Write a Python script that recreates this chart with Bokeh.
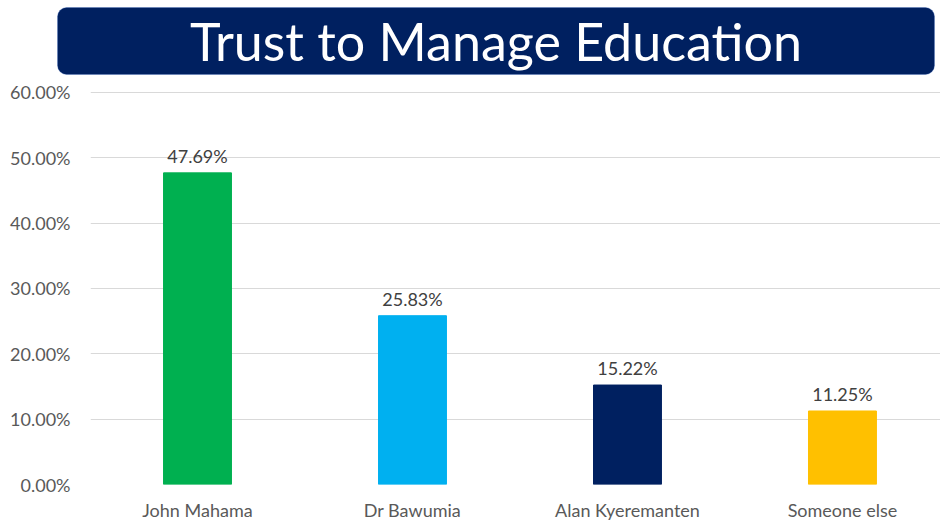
from bokeh.plotting import figure
from bokeh.layouts import column
from bokeh.models import (ColumnDataSource, FixedTicker, NumeralTickFormatter,
                          BoxAnnotation, Label, LabelSet, Range1d)
from bokeh.core.properties import value
from bokeh.embed import file_html
from bokeh.resources import INLINE

title_text = "Trust to Manage Education"
categories = ["John Mahama", "Dr Bawumia", "Alan Kyeremanten", "Someone else"]
values = [0.4769, 0.2583, 0.1522, 0.1125]
colors = ["#00B050", "#00B0F0", "#002060", "#FFC000"]
y_ticks = [0.0, 0.1, 0.2, 0.3, 0.4, 0.5, 0.6]

FONT = "Lato"
W = 940

# ---------- title banner ----------
t = figure(width=W, height=78, output_backend="svg", toolbar_location=None,
           x_range=Range1d(0, W), y_range=Range1d(78, 0),
           min_border=0, x_axis_location=None, y_axis_location=None)
t.frame_align = False
t.outline_line_color = None
t.xgrid.visible = False
t.ygrid.visible = False
t.add_layout(BoxAnnotation(left=57, right=934, top=7, bottom=74,
                           fill_color="#002060", fill_alpha=1.0,
                           line_color="#4472C4", line_width=1,
                           border_radius=9))
t.add_layout(Label(x=495.5, y=40, text=title_text, text_align="center",
                   text_baseline="middle", text_color="white",
                   text_font=FONT, text_font_size="52px"))

# ---------- bar chart ----------
xs = list(range(len(categories)))
src = ColumnDataSource(dict(
    x=xs, top=values, color=colors,
    label=[f"{v*100:.2f}%" for v in values],
))

p = figure(width=W, height=445, output_backend="svg", toolbar_location=None,
           x_range=(-0.4977, 3.456), y_range=(0, 0.62132),
           min_border_left=90, min_border_right=0, min_border_top=0,
           min_border_bottom=37)
p.frame_align = False
p.outline_line_color = None

p.vbar(x="x", top="top", width=0.316, color="color", source=src)

p.add_layout(LabelSet(x="x", y="top", text="label", source=src,
                      text_align="center", text_baseline="bottom", y_offset=6,
                      text_font=value(FONT), text_font_size="18px",
                      text_color="#404040"))

p.yaxis.ticker = FixedTicker(ticks=y_ticks)
p.yaxis.formatter = NumeralTickFormatter(format="0.00%")
p.yaxis.axis_line_color = None
p.yaxis.major_tick_line_color = None
p.yaxis.minor_tick_line_color = None
p.yaxis.major_tick_out = 0
p.yaxis.major_tick_in = 0
p.yaxis.major_label_text_font = FONT
p.yaxis.major_label_text_font_size = "18px"
p.yaxis.major_label_text_color = "#595959"
p.yaxis.major_label_standoff = 20

p.xaxis.ticker = FixedTicker(ticks=xs)
p.xaxis.major_label_overrides = {i: c for i, c in enumerate(categories)}
p.xaxis.axis_line_color = None
p.xaxis.major_tick_line_color = None
p.xaxis.minor_tick_line_color = None
p.xaxis.major_tick_out = 0
p.xaxis.major_tick_in = 0
p.xaxis.major_label_text_font = FONT
p.xaxis.major_label_text_font_size = "18px"
p.xaxis.major_label_text_color = "#595959"
p.xaxis.major_label_standoff = 14

p.xgrid.grid_line_color = None
p.ygrid.grid_line_color = "#D9D9D9"
p.ygrid.ticker = FixedTicker(ticks=y_ticks)

layout = column(t, p, spacing=0)
open("out.html", "w").write(file_html(layout, INLINE))
